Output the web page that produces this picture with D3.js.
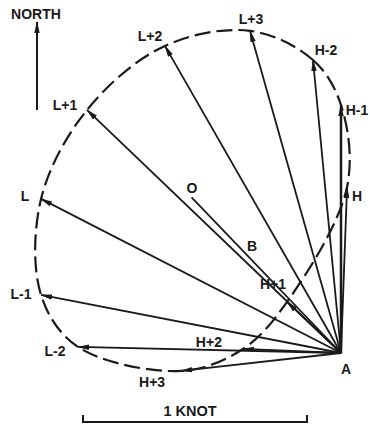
<!DOCTYPE html>
<html>
<head>
<meta charset="utf-8">
<script src="https://cdn.jsdelivr.net/npm/d3@7"></script>
<style>
  body { margin: 0; background: #fff; }
  svg { display: block; }
</style>
</head>
<body>
<div id="chart"></div>
<script>
// Tidal current vectors, hours relative to high (H) and low (L) water, in knots from A
var hours = ["H-1", "H-2", "L+3", "L+2", "L+1", "L", "L-1", "L-2", "H+3", "H+2", "H+1", "H"];
var eastKnots = [0.000, -0.125, -0.406, -0.786, -1.134, -1.339, -1.339, -1.174, -0.714, -0.438, -0.241, 0.027];
var northKnots = [1.107, 1.308, 1.438, 1.371, 1.085, 0.688, 0.259, 0.027, -0.080, 0.018, 0.228, 0.741];
// The point O (end of the mean line drawn from A)
var meanEast = -0.665;
var meanNorth = 0.692;

// Label nudges in pixels, relative to each vector tip (layout only)
var labelDx = [16, 13, 1, -15, -22, -16, -20, -23, -29, -34, -14, 10];
var labelDy = [5, -10, -12, -10, -5, -3, -1, 4, 11, -7, -18, 9];

var width = 370, height = 425;
var knotPx = 224;           // length of 1 knot on the scale bar
var ax = 341, ay = 353;     // where point A sits

var ink = "#1a1a1a";
var font = "'Liberation Sans', Arial, Helvetica, sans-serif";

var x = d3.scaleLinear().domain([0, 1]).range([ax, ax + knotPx]);
var y = d3.scaleLinear().domain([0, 1]).range([ay, ay - knotPx]);

var svg = d3.select("#chart").append("svg")
    .attr("width", width).attr("height", height);

// arrow head used by every vector
svg.append("defs").append("marker")
    .attr("id", "head")
    .attr("viewBox", "0 0 12 6")
    .attr("refX", 11).attr("refY", 3)
    .attr("markerWidth", 12).attr("markerHeight", 6)
    .attr("markerUnits", "userSpaceOnUse")
    .attr("orient", "auto")
  .append("path")
    .attr("d", "M0,0.3 L12,3 L0,5.7 Z")
    .attr("fill", ink);

var tips = hours.map(function (h, i) {
    return { name: h, e: eastKnots[i], n: northKnots[i], i: i };
});

// mean line from A out to O (no head)
svg.append("line")
    .attr("x1", x(0)).attr("y1", y(0))
    .attr("x2", x(meanEast)).attr("y2", y(meanNorth))
    .attr("stroke", ink).attr("stroke-width", 1.8)
    .attr("stroke-linecap", "round");

// current vectors from A
svg.selectAll("line.vec")
    .data(tips)
  .enter().append("line")
    .attr("class", "vec")
    .attr("x1", x(0)).attr("y1", y(0))
    .attr("x2", function (d) { return x(d.e); })
    .attr("y2", function (d) { return y(d.n); })
    .attr("stroke", ink)
    .attr("stroke-width", function (d) { return d.name == "H-1" ? 2.5 : 1.8; })
    .attr("marker-end", "url(#head)");

// dashed curve through the vector tips
var loop = d3.line()
    .x(function (d) { return x(d.e); })
    .y(function (d) { return y(d.n); })
    .curve(d3.curveCatmullRomClosed.alpha(0.5));

svg.append("path")
    .attr("d", loop(tips))
    .attr("fill", "none")
    .attr("stroke", ink).attr("stroke-width", 2.2)
    .attr("stroke-dasharray", "16,6");

// hour labels
svg.selectAll("text.hour")
    .data(tips)
  .enter().append("text")
    .attr("class", "hour")
    .attr("x", function (d) { return x(d.e) + labelDx[d.i]; })
    .attr("y", function (d) { return y(d.n) + labelDy[d.i]; })
    .attr("dy", "0.36em")
    .attr("text-anchor", "middle")
    .style("font-family", font).style("font-size", "14px").style("font-weight", "bold")
    .attr("fill", ink)
    .text(function (d) { return d.name; });

// other point labels
function label(txt, px, py, size) {
    svg.append("text")
        .attr("x", px).attr("y", py).attr("dy", "0.36em")
        .attr("text-anchor", "middle")
        .style("font-family", font).style("font-size", (size || 14) + "px").style("font-weight", "bold")
        .attr("fill", ink)
        .text(txt);
}
label("O", x(meanEast), y(meanNorth) - 10);
label("B", 252, 246);
label("A", ax + 5, ay + 16);

// north arrow
svg.append("line")
    .attr("x1", 37).attr("y1", 110).attr("x2", 37).attr("y2", 22)
    .attr("stroke", ink).attr("stroke-width", 2)
    .attr("marker-end", "url(#head)");
label("NORTH", 36, 14, 14);

// scale bar, one knot long
var barLeft = 83, barY = 422;
var barLen = x(1) - x(0);
svg.append("path")
    .attr("d", "M" + barLeft + "," + (barY - 7) + "V" + barY + "H" + (barLeft + barLen) + "V" + (barY - 7))
    .attr("fill", "none")
    .attr("stroke", ink).attr("stroke-width", 2);
label("1 KNOT", 190, 411, 14.5);
</script>
</body>
</html>
